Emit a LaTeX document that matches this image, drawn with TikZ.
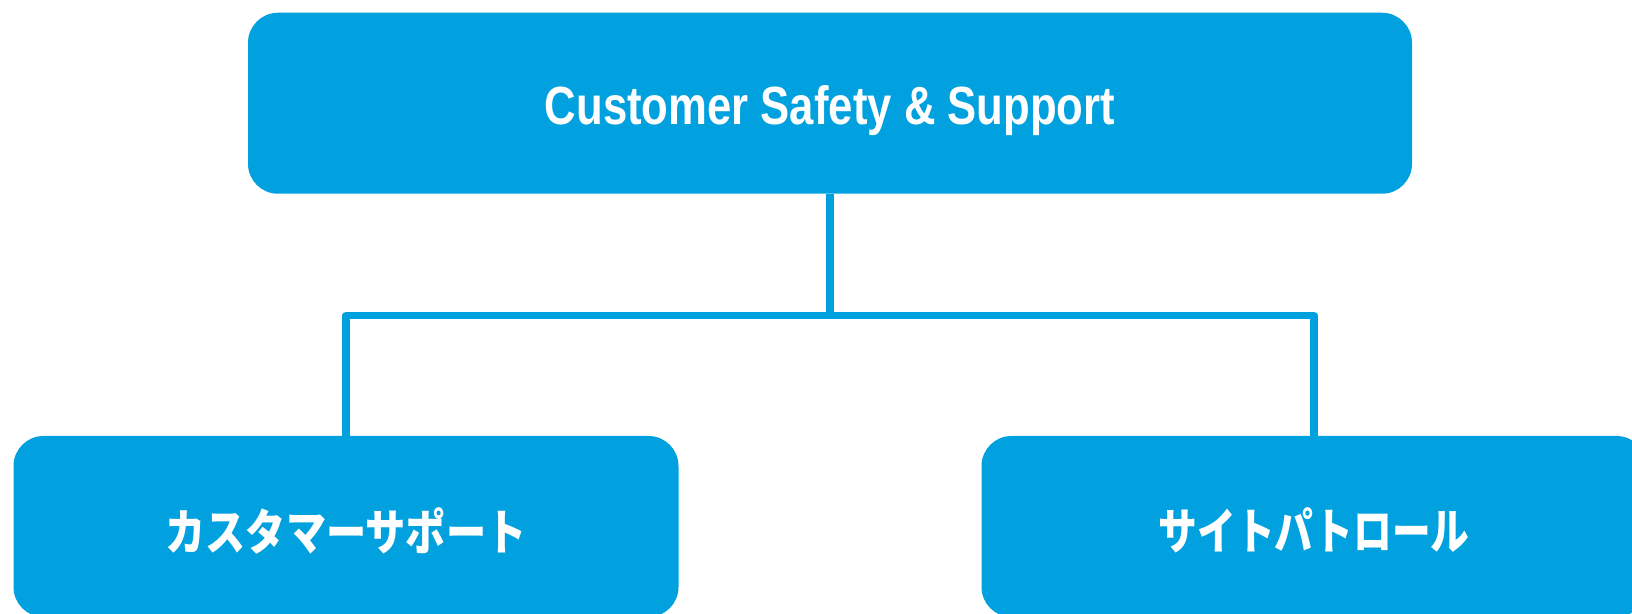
\documentclass[tikz,border=0pt]{standalone}
\usepackage{fontspec}
\setmainfont{Liberation Sans}
\newfontfamily\jpfont{Noto Sans CJK JP}
\definecolor{cssblue}{RGB}{0,161,222}
\begin{document}
\begin{tikzpicture}[x=1pt, y=1pt,
    box/.style={fill=cssblue, draw=none, rounded corners=30pt, inner sep=0pt, outer sep=0pt,
      minimum height=181pt, text=white},
    conn/.style={draw=cssblue, line width=7.5pt, line join=round}]
  \useasboundingbox (0,0) rectangle (1632,613);
  % Oberste Ebene
  \node[box, minimum width=1164pt] (top) at (830,509.75)
    {\raisebox{-7pt}[\height][\depth]{\scalebox{0.78}[0.96]{\fontsize{56}{60}\selectfont\bfseries Customer Safety \& Support}}};
  % Untere Ebene
  \node[box, minimum width=665pt] (left) at (346,86.5)
    {\raisebox{-4pt}[\height][\depth]{\scalebox{0.82}[1]{\fontsize{49}{52}\jpfont\bfseries カスタマーサポート}}};
  \node[box, minimum width=665pt] (right) at (1314,86.5)
    {\raisebox{-4pt}[\height][\depth]{\scalebox{0.79}[1]{\fontsize{49}{52}\jpfont\bfseries サイトパトロール}}};
  % Verbindungen
  \draw[conn] (left.north) -- ++(0,120.5) coordinate (knee) -| (right.north);
  \draw[conn] (top.south) -- (top.south |- knee);
\end{tikzpicture}
\end{document}
